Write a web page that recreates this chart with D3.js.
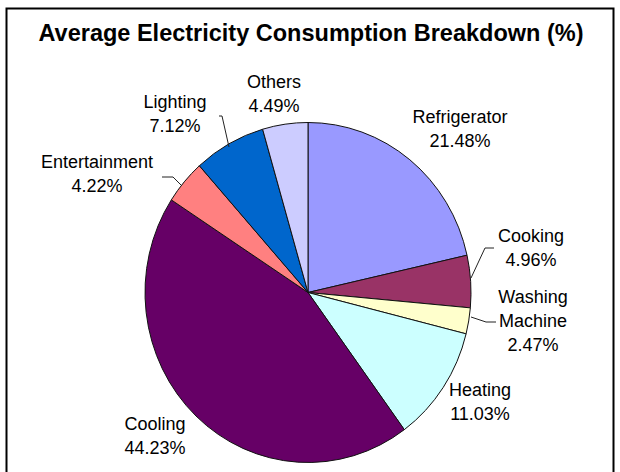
<!DOCTYPE html>
<html><head><meta charset="utf-8">
<script src="https://cdn.jsdelivr.net/npm/d3@7"></script>
<style>body{margin:0;background:#fff}svg{display:block}text{font-family:"Liberation Sans",Arial,sans-serif}</style>
</head><body><svg id="c" width="620" height="472"></svg>
<script>
const categories = ["Refrigerator","Cooking","Washing Machine","Heating","Cooling","Entertainment","Lighting","Others"];
const values = [21.48,4.96,2.47,11.03,44.23,4.22,7.12,4.49];
const colors = ["#9999FF","#993366","#FFFFCC","#CCFFFF","#660066","#FF8080","#0066CC","#CCCCFF"];
const labelLines = [["Refrigerator"],["Cooking"],["Washing","Machine"],["Heating"],["Cooling"],["Entertainment"],["Lighting"],["Others"]];

const svg = d3.select("#c");
svg.append("rect").attr("x",6.5).attr("y",8.5).attr("width",607).attr("height",480)
  .attr("fill","#fff").attr("stroke","#000").attr("stroke-width",2);
svg.append("text").attr("x",311).attr("y",41).attr("text-anchor","middle")
  .attr("font-size",23.5).attr("font-weight","bold").text("Average Electricity Consumption Breakdown (%)");

const cx=308, cy=292.5, rx=163, ry=170;
const pie = d3.pie().sort(null).value(d=>d)(values);
const arc = d3.arc().innerRadius(0).outerRadius(rx);
const g = svg.append("g").attr("transform",`translate(${cx},${cy}) scale(1,${ry/rx})`);
g.selectAll("path").data(pie).join("path").attr("d",arc)
  .attr("fill",(d,i)=>colors[i]).attr("stroke","#111").attr("stroke-width",1)
  .attr("vector-effect","non-scaling-stroke");

// label anchor positions (text centers / first baseline)
const labelPos = [[460,123],[531,242],[533,303],[480,396],[155,430],[97,168],[175,108],[274,88]];
const lh = 24;
const lab = svg.append("g").attr("font-size",18).attr("fill","#000");
labelLines.forEach((lines,i)=>{
  const t = lab.append("text").attr("text-anchor","middle");
  lines.concat([values[i].toFixed(2)+"%"]).forEach((s,k)=>{
    t.append("tspan").attr("x",labelPos[i][0]).attr("y",labelPos[i][1]+k*lh).text(s);
  });
});
// leader lines
const leaders = {
  1:[[494,248],[485,248],[471,278]],
  2:[[496,322],[486,322],[471,317]],
  5:[[162,177],[173,177],[182,186]],
  6:[[219,116],[222,116],[229,147]]
};
Object.values(leaders).forEach(p=>{
  svg.append("path").attr("d",d3.line()(p)).attr("fill","none").attr("stroke","#222").attr("stroke-width",1);
});
</script></body></html>
